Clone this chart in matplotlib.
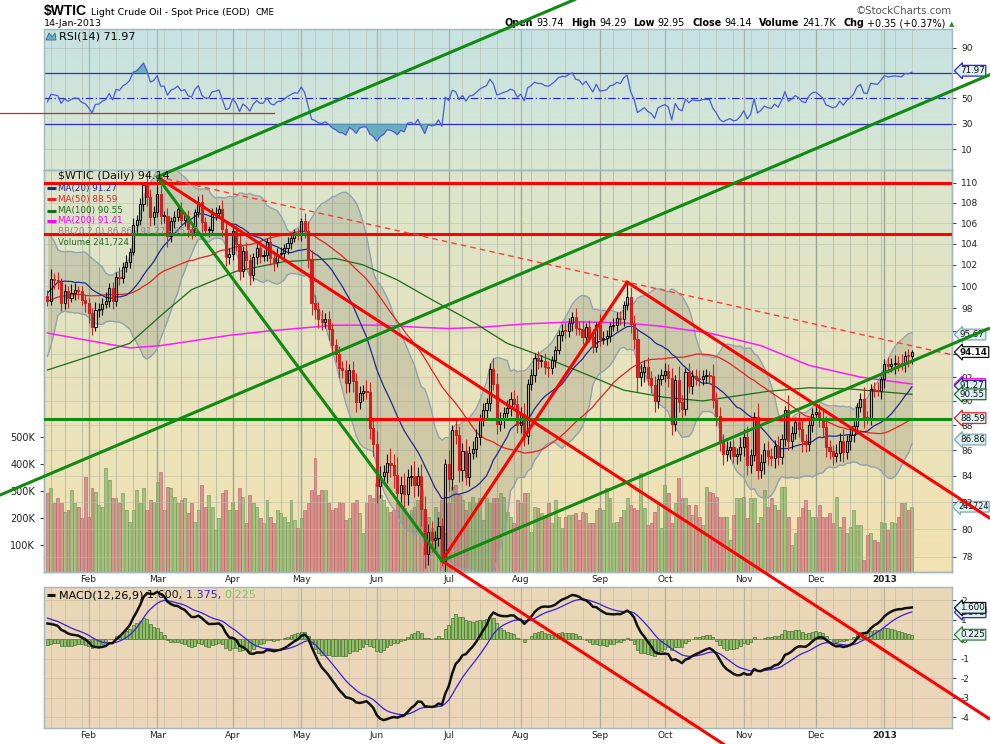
import numpy as np
import pandas as pd
import matplotlib
matplotlib.use("Agg")
import matplotlib.pyplot as plt
import matplotlib.transforms as mtransforms
from matplotlib.colors import to_rgb
from matplotlib.ticker import FixedLocator, NullLocator, FuncFormatter

# ---------------- data ----------------
# closes before the first visible bar (Oct 2011 - Jan 12 2012), only used to warm up the indicators
warmup_close = [
    77.61, 75.67, 79.68, 82.59, 82.98, 85.41, 85.81, 85.57, 84.23, 86.80, 86.38,
    88.34, 86.11, 85.30, 87.40, 91.27, 93.17, 90.20, 93.96, 93.32, 93.19,
    92.19, 92.51, 94.07, 94.26, 95.52, 96.80, 95.74, 97.78, 98.99, 98.14, 99.37,
    102.59, 98.82, 97.41, 96.92, 98.01, 96.17, 96.77, 98.21, 99.79, 100.36,
    100.20, 100.96, 101.00, 101.28, 100.49, 98.34, 99.41, 97.77, 100.14, 94.95,
    93.87, 93.53, 93.88, 97.22, 98.67, 99.53, 99.68, 101.34, 99.36, 99.65, 98.83,
    102.96, 103.22, 101.81, 101.56, 101.31, 102.24, 100.87, 99.10,
]

close_jan = [98.70, 100.71, 100.59, 100.39, 98.46, 99.58, 98.95, 99.40, 99.70, 99.56, 98.78, 98.48]
close_feb = [97.61, 96.36, 97.84, 97.91, 98.41, 98.70, 99.84, 98.67, 100.91, 100.74,
             101.80, 102.31, 103.24, 105.84, 106.28, 107.83, 109.77, 108.56, 106.55, 107.07]
close_mar = [108.84, 106.70, 106.72, 104.70, 106.16, 106.58, 107.40, 106.34, 106.71, 105.43, 105.11,
             107.06, 108.09, 106.07, 105.35, 105.35, 106.87, 107.03, 107.33, 105.41, 102.78, 103.02]
close_apr = [105.23, 104.01, 101.47, 103.31, 102.46, 101.02, 102.70, 103.64, 102.83, 102.93,
             104.20, 102.67, 102.27, 103.05, 103.11, 103.55, 104.12, 104.55, 104.93, 104.87]
close_may = [106.16, 105.22, 102.54, 98.49, 97.94, 97.01, 96.81, 97.08, 96.13, 94.78, 93.98,
             92.81, 92.56, 91.48, 92.57, 91.66, 89.90, 90.66, 90.86, 90.76, 87.82, 86.53]
close_jun = [83.23, 83.98, 84.29, 85.02, 84.82, 84.10, 82.70, 83.32, 82.62, 83.91, 84.03,
             83.27, 84.03, 81.45, 78.20, 79.76, 79.21, 79.36, 80.21, 77.69, 84.96]
close_jul = [83.75, 87.66, 87.22, 84.45, 85.99, 83.91, 85.81, 86.08, 87.10, 88.43, 89.22,
             89.87, 92.66, 91.44, 88.14, 88.50, 89.04, 89.39, 90.13, 89.78, 88.06]
close_aug = [88.91, 87.13, 91.40, 92.20, 93.67, 93.35, 93.36, 92.87, 92.73, 93.43, 94.33, 95.60,
             96.01, 95.97, 96.68, 97.26, 96.27, 96.15, 95.47, 96.33, 95.49, 94.62, 96.47]
close_sep = [95.30, 95.36, 95.53, 96.42, 96.54, 97.17, 97.01, 98.31, 99.00, 96.62,
             95.29, 91.98, 92.42, 92.89, 91.93, 91.37, 89.98, 91.85, 92.19]
close_oct = [92.48, 91.89, 88.14, 91.71, 89.88, 89.33, 92.39, 91.25, 92.07, 91.86, 91.85, 92.09,
             92.12, 92.10, 90.05, 88.73, 86.67, 85.73, 86.05, 86.28, 85.54, 85.68, 86.24]
close_nov = [87.09, 84.86, 85.65, 88.71, 84.44, 85.09, 86.07, 85.57, 85.38, 86.32, 85.45,
             86.92, 89.28, 86.75, 87.38, 88.28, 87.74, 86.71, 86.49, 88.07, 88.91]
close_dec = [89.09, 88.49, 87.88, 86.26, 85.93, 85.56, 85.80, 86.77, 85.89, 86.73,
             87.20, 87.93, 89.51, 90.13, 88.66, 88.61, 90.98, 90.87, 90.80, 91.82]
close_jan13 = [93.12, 92.92, 93.09, 93.19, 93.15, 93.10, 93.82, 93.79, 94.14]

# wick length above / below the candle body
hi_ext = [0.6, 0.9, 0.5, 0.7, 0.4, 0.6, 0.5, 0.8, 0.6, 0.3, 0.5, 0.4,
          0.5, 0.4, 0.7, 0.6, 0.5, 0.8, 0.5, 0.6, 0.4, 0.9, 0.5, 0.6, 0.4, 0.7, 0.5, 0.6, 0.2, 1.2, 0.8, 0.6,
          1.7, 0.9, 0.5, 0.8, 0.4, 0.6, 0.5, 0.7, 0.4, 0.6, 0.5, 0.3, 0.6, 0.8, 0.5, 0.4, 0.6, 0.5, 0.4, 0.9, 0.7, 0.6,
          0.4, 0.6, 0.8, 0.5, 0.9, 0.6, 0.4, 0.5, 0.7, 0.5, 0.4, 0.9, 0.6, 0.5, 0.6, 0.4, 0.5, 0.3, 0.5, 0.6,
          0.3, 0.8, 1.0, 0.9, 0.7, 0.6, 0.8, 0.5, 0.7, 0.6, 0.5, 0.7, 0.6, 0.9, 0.5, 0.8, 0.7, 0.6, 0.5, 0.9, 0.8, 0.6,
          1.0, 0.8, 0.6, 0.7, 1.2, 0.9, 1.4, 0.7, 0.9, 0.6, 0.8, 1.1, 0.7, 0.9, 1.0, 0.6, 0.8, 0.5, 0.7, 0.6, 0.4,
          1.1, 0.4, 0.8, 0.7, 0.6, 0.9, 0.5, 0.7, 0.6, 0.5, 0.6, 0.4, 0.5, 1.0, 0.9, 0.6, 0.5, 0.7, 0.6, 0.8, 0.7,
          0.6, 0.9, 0.4, 0.5, 0.4, 0.6, 0.5, 0.7, 0.5, 0.4, 0.3, 0.5, 0.6, 0.7, 0.5, 0.4, 0.8, 0.6, 0.7, 0.4, 0.6, 0.7, 0.3,
          1.0, 0.6, 0.5, 0.4, 0.6, 0.5, 0.6, 0.4, 1.4, 0.9, 0.8, 0.9, 0.7, 0.6, 0.8, 0.6, 0.7, 0.4, 0.5,
          0.7, 0.6, 0.9, 0.5, 1.2, 0.6, 0.4, 0.8, 0.5, 0.6, 0.7, 0.5, 0.6, 0.4, 1.0, 0.7, 0.8, 0.6, 0.7, 0.5, 0.6, 0.5, 0.8,
          0.6, 0.9, 0.5, 0.4, 1.1, 0.6, 0.5, 0.7, 0.6, 0.5, 0.8, 0.4, 0.3, 1.2, 0.6, 0.4, 0.7, 0.8, 0.6, 0.4, 0.5,
          0.6, 0.7, 0.8, 0.9, 0.6, 0.5, 0.7, 0.6, 0.9, 0.5, 0.6, 0.4, 0.3, 0.5, 1.0, 0.5, 0.4, 0.6, 0.7, 0.3,
          0.4, 0.6, 0.5, 0.7, 0.6, 0.8, 0.4, 0.6, 0.15]
lo_ext = [0.5, 0.4, 0.8, 0.6, 0.7, 0.5, 0.9, 0.4, 0.6, 0.7, 0.5, 0.8,
          0.9, 0.7, 0.4, 0.6, 0.5, 0.4, 0.6, 0.7, 0.5, 0.6, 0.4, 0.5, 0.6, 0.3, 0.7, 0.5, 0.6, 0.9, 0.8, 0.7,
          0.5, 0.8, 0.7, 1.0, 0.5, 0.6, 0.4, 0.7, 0.6, 0.8, 0.7, 0.4, 0.5, 0.9, 0.6, 0.7, 0.5, 0.6, 0.4, 0.8, 0.9, 0.7,
          0.6, 0.7, 0.9, 0.6, 0.8, 0.9, 0.5, 0.6, 0.7, 0.5, 0.6, 0.7, 0.8, 0.5, 0.4, 0.6, 0.5, 0.6, 0.4, 0.5,
          0.6, 0.7, 0.8, 1.1, 0.9, 0.8, 0.7, 0.6, 0.9, 0.8, 0.7, 0.9, 0.6, 0.8, 0.7, 0.9, 0.8, 0.6, 0.7, 0.6, 0.9, 1.0,
          1.3, 0.9, 0.7, 0.8, 0.9, 1.0, 0.8, 0.7, 1.0, 0.8, 0.7, 0.9, 0.8, 1.2, 1.0, 0.8, 0.9, 0.7, 0.6, 0.4, 0.8,
          0.9, 0.8, 0.7, 0.9, 0.8, 0.6, 0.7, 0.5, 0.6, 0.7, 0.5, 0.6, 0.7, 0.5, 0.8, 0.6, 0.7, 0.5, 0.6, 0.5, 0.7,
          0.7, 0.8, 0.6, 0.5, 0.6, 0.7, 0.5, 0.6, 0.7, 0.5, 0.6, 0.4, 0.5, 0.6, 0.5, 0.7, 0.6, 0.5, 0.6, 0.7, 0.5, 0.6, 0.5,
          0.6, 0.5, 0.6, 0.5, 0.4, 0.6, 0.5, 0.6, 0.5, 0.8, 0.9, 1.2, 0.7, 0.8, 0.6, 0.7, 0.9, 0.6, 0.5,
          0.6, 0.7, 0.9, 0.6, 0.8, 0.7, 0.5, 0.6, 0.7, 0.5, 0.6, 0.5, 0.6, 0.7, 0.6, 0.8, 0.7, 0.9, 0.6, 0.7, 0.5, 0.6, 0.5,
          0.7, 0.8, 0.6, 0.5, 0.7, 0.6, 0.9, 0.7, 0.6, 0.8, 0.6, 0.5, 0.6, 0.7, 0.6, 0.5, 0.7, 0.8, 0.6, 0.5, 0.6,
          0.5, 0.6, 0.7, 0.8, 0.6, 0.7, 0.5, 0.6, 0.8, 0.6, 0.7, 0.5, 0.6, 0.4, 0.9, 0.5, 0.6, 0.5, 0.4, 0.6,
          0.7, 0.6, 0.5, 0.8, 0.6, 0.5, 0.7, 0.9, 0.7]

# daily volume, thousands
volume_k = [
    291, 310, 254, 273, 254, 223, 230, 304, 254, 242, 199, 353, 205, 310, 297, 248, 242, 384, 341, 273,
    273, 254, 291, 230, 186, 230, 304, 254, 310, 230, 267, 260, 334, 371, 230, 316, 310, 279, 254, 267,
    273, 217, 254,
    186, 230, 322, 242, 285, 242, 156, 199, 291, 304, 230, 260, 230, 310, 279, 180, 285, 254, 242, 199,
    180, 267, 205, 180, 230, 217, 205, 186, 267, 193, 162, 199, 230, 254, 304, 421, 285, 304, 304, 254,
    230, 236, 260,
    254, 193, 199, 254, 267, 217, 143, 254, 285, 273, 328, 285, 267, 242, 223, 230, 254, 254, 236, 205,
    230, 242, 267, 304, 223, 205, 162, 242, 223, 267, 143, 254, 316, 322, 285, 267, 230, 260, 279, 254,
    273, 193,
    273, 254, 273, 273, 291, 279, 223, 205, 180, 267, 254, 291, 291, 149, 242, 236, 217, 205, 254, 180,
    267, 205, 162, 205, 211, 211, 217, 193, 223, 217, 180, 180, 230, 236, 230, 310, 273, 180, 186, 205,
    230, 273, 248, 236, 230, 365, 236, 174, 180, 223, 260,
    162, 322, 291, 180, 254, 347, 273, 273, 248, 211, 248, 205, 174, 316, 297, 291, 279, 205, 205, 205,
    119, 211, 273, 273, 279, 199, 273, 273, 180, 205, 304, 242, 273, 248, 230, 316, 316, 205, 100, 143,
    205, 236, 267, 230, 205, 205, 248, 205, 205, 217, 180, 279, 168, 205, 143, 168, 230, 174, 174, 44,
    137, 143, 119, 112, 186, 180, 156, 186, 180, 205, 254, 254, 230, 242,
]

# MA(100) and MA(200) sampled off the chart (bar index, value)
ma100_idx = [0, 24, 34, 42, 55, 69, 84, 92, 102, 112, 125, 134, 144, 159, 168, 180, 191, 210, 222, 234, 252]
ma100_val = [92.6, 94.9, 97.6, 99.7, 101.4, 102.3, 102.6, 102.0, 100.6, 98.8, 96.6, 94.9, 93.8, 92.0,
             90.9, 90.3, 90.0, 90.8, 91.1, 91.0, 90.55]
ma200_idx = [0, 11, 24, 33, 42, 53, 65, 84, 97, 109, 117, 126, 139, 154, 168, 179, 193, 208, 222, 237, 252]
ma200_val = [95.8, 95.2, 94.5, 94.7, 95.1, 95.6, 96.0, 96.5, 96.5, 96.3, 96.2, 96.3, 96.6, 96.8, 96.7,
             96.4, 95.8, 94.7, 93.0, 92.0, 91.41]

# last values printed on the chart
last_close = 94.14
last_ma20, last_ma50, last_ma100, last_ma200 = 91.27, 88.59, 90.55, 91.41
last_bb_lo, last_bb_up = 86.86, 95.67
last_rsi = 71.97
last_macd, last_signal, last_hist = 1.600, 1.375, 0.225
last_volume = 241724

holidays = ["2012-01-16", "2012-02-20", "2012-04-06", "2012-05-28", "2012-07-04",
            "2012-09-03", "2012-11-22", "2012-12-25", "2013-01-01"]

# trendline anchors (bar index, price)
mar_high = (32, 110.6)
jun_low = (115, 77.7)
sep_high = (169, 100.4)
red_chan_pt = (180, 81.6)
grn_chan_pt = (178.5, 84.6)
grn_long_pt = (178.5, 106.8)
rsi_mark = (66, 38.6)

# ---------------- series ----------------
close = (close_jan + close_feb + close_mar + close_apr + close_may + close_jun + close_jul +
         close_aug + close_sep + close_oct + close_nov + close_dec + close_jan13)
dates = pd.bdate_range("2012-01-13", "2013-01-14")
dates = dates[~dates.isin(pd.to_datetime(holidays))]
n = len(close)
assert len(dates) == n == len(volume_k) == len(hi_ext) == len(lo_ext)

nw = len(warmup_close)
full = pd.Series(warmup_close + close)
ma20 = full.rolling(20).mean().values[nw:]
sd20 = full.rolling(20).std(ddof=0).values[nw:]
bb_up = ma20 + 2 * sd20
bb_lo = ma20 - 2 * sd20
ma50 = full.rolling(50).mean().values[nw:]
delta = full.diff()
avg_g = delta.clip(lower=0).ewm(alpha=1 / 14, adjust=False).mean()
avg_l = (-delta.clip(upper=0)).ewm(alpha=1 / 14, adjust=False).mean()
rsi = (100 - 100 / (1 + avg_g / avg_l)).values[nw:]
macd_full = full.ewm(span=12, adjust=False).mean() - full.ewm(span=26, adjust=False).mean()
sig_full = macd_full.ewm(span=9, adjust=False).mean()
macd = macd_full.values[nw:]
signal = sig_full.values[nw:]
hist = macd - signal

idx = np.arange(n)
c = np.array(close)
o = np.array([warmup_close[-1]] + close[:-1])
body_lo = np.minimum(o, c)
body_hi = np.maximum(o, c)
hi = body_hi + np.array(hi_ext)
lo = body_lo - np.array(lo_ext)
up = c >= o

month_idx = [i for i in range(1, n) if dates[i].month != dates[i - 1].month]
month_lab = [d.strftime("%b") if d.year == 2012 else str(d.year) for d in dates[month_idx]]
week_idx = [i for i in range(1, n) if dates[i].weekday() < dates[i - 1].weekday()]

# ---------------- figure ----------------
W, H = 990, 744
fig = plt.figure(figsize=(W / 100, H / 100), dpi=100)
fig.patch.set_facecolor("white")


def px_box(x0, y0, x1, y1):
    return [x0 / W, 1 - y1 / H, (x1 - x0) / W, (y1 - y0) / H]


def gradient(a, top, bottom):
    t = np.linspace(0, 1, 128)[:, None, None]
    img = (1 - t) * np.array(to_rgb(top)) + t * np.array(to_rgb(bottom))
    a.imshow(img, extent=[0, 1, 0, 1], transform=a.transAxes, aspect="auto", zorder=0, interpolation="bilinear")


XLIM = (-1.0, 263.7)
ax_rsi = fig.add_axes(px_box(44, 29, 952, 170))
ax_vol = fig.add_axes(px_box(44, 170, 952, 572))
ax = fig.add_axes(px_box(44, 170, 952, 572))
ax_macd = fig.add_axes(px_box(44, 587, 952, 728))
ax.set_zorder(ax_vol.get_zorder() + 1)
ax.patch.set_visible(False)

gradient(ax_rsi, "#c6e2e2", "#d9e7d2")
gradient(ax_vol, "#dbe5cc", "#f3e1b1")
gradient(ax_macd, "#ead8b8", "#ecd6ba")

spine_col = "#a3b7c0"
for a in (ax_rsi, ax_vol, ax, ax_macd):
    for s in a.spines.values():
        s.set_color(spine_col)
        s.set_linewidth(1.0)
    a.set_xlim(*XLIM)
    a.tick_params(labelsize=6.5, colors="#222222", length=3, width=0.6)
    for i in week_idx:
        a.axvline(i, color="#a8b0a0", lw=0.6, alpha=0.5, zorder=1)
    for i in month_idx:
        a.axvline(i, color="#8d978a", lw=0.9, alpha=0.55, zorder=1)

# ---- RSI panel ----
ax_rsi.set_ylim(-6.6, 105)
ax_rsi.yaxis.tick_right()
ax_rsi.set_yticks([10, 30, 50, 70, 90])
ax_rsi.set_yticklabels(["10", "30", "50", "", "90"])
ax_rsi.set_xticks([])
for v in (10, 90):
    ax_rsi.axhline(v, color="#a8b4a8", lw=0.6, alpha=0.6, zorder=1)
ax_rsi.axhline(70, color="#2a2ad0", lw=0.9, zorder=2)
ax_rsi.axhline(30, color="#2a2ad0", lw=0.9, zorder=2)
ax_rsi.axhline(50, color="#2a2ad0", lw=0.9, ls=(0, (6, 2, 1, 2)), zorder=2)
ax_rsi.fill_between(idx, 70, rsi, where=rsi > 70, interpolate=True, color="#5aa6b8", alpha=0.85, lw=0, zorder=2)
ax_rsi.fill_between(idx, 30, rsi, where=rsi < 30, interpolate=True, color="#5aa6b8", alpha=0.85, lw=0, zorder=2)
ax_rsi.plot(idx, rsi, color="#4a5ad6", lw=0.9, zorder=3)

# ---- volume (under price) ----
vol_up = np.diff(np.r_[warmup_close[-1], c]) >= 0
ax_vol.bar(idx[vol_up], np.array(volume_k)[vol_up], width=0.85, color="#9dbf7c", edgecolor="#739a58", lw=0.5, alpha=0.9, zorder=2)
ax_vol.bar(idx[~vol_up], np.array(volume_k)[~vol_up], width=0.85, color="#d98b8b", edgecolor="#bb6868", lw=0.5, alpha=0.9, zorder=2)
ax_vol.set_ylim(0, 1489)
ax_vol.set_yticks([100, 200, 300, 400, 500])
ax_vol.set_yticklabels(["100K", "200K", "300K", "400K", "500K"], fontsize=7)
ax_vol.set_xticks([])

# ---- price panel ----
ax.set_yscale("log")
price_ticks = list(range(78, 111, 2))
ax.yaxis.set_major_locator(FixedLocator(price_ticks))
ax.yaxis.set_minor_locator(NullLocator())
ax.yaxis.set_major_formatter(FuncFormatter(lambda v, p: "" if round(v) in (94, 96) else f"{v:.0f}"))
ax.yaxis.tick_right()
ax.set_ylim(76.9, 111.3)
for v in price_ticks:
    ax.axhline(v, color="#b7bda8", lw=0.6, alpha=0.6, zorder=1)

ax.fill_between(idx, bb_lo, bb_up, color="#7c7c68", alpha=0.24, lw=0, zorder=2)
ax.plot(idx, bb_up, color="#93a2ac", lw=1.0, zorder=2)
ax.plot(idx, bb_lo, color="#93a2ac", lw=1.0, zorder=2)
ax.plot(ma200_idx, ma200_val, color="#ff1aff", lw=1.1, zorder=3)
ax.plot(ma100_idx, ma100_val, color="#1d6a1d", lw=0.9, zorder=3)
ax.plot(idx, ma50, color="#e42222", lw=0.9, zorder=3)
ax.plot(idx, ma20, color="#1f2a8c", lw=0.9, zorder=3)

up_col, dn_col = "#111111", "#cc2222"
cols = np.where(up, up_col, dn_col)
ax.vlines(idx, body_hi, hi, colors=cols, lw=0.8, zorder=4)
ax.vlines(idx, lo, body_lo, colors=cols, lw=0.8, zorder=4)
body_h = np.maximum(body_hi - body_lo, 0.08)
ax.bar(idx[up], body_h[up], bottom=body_lo[up], width=0.62, facecolor="none", edgecolor=up_col, lw=0.8, zorder=5)
ax.bar(idx[~up], body_h[~up], bottom=body_lo[~up], width=0.62, facecolor=dn_col, edgecolor=dn_col, lw=0.8, zorder=5)

# horizontal support / resistance lines
ax.axhline(110.0, color="#ff0000", lw=2.2, zorder=6)
ax.axhline(104.9, color="#ff0000", lw=2.2, zorder=6)
ax.axhline(88.5, color="#118a11", lw=2.2, zorder=6)
ax.plot([24.7, 50.9], [104.9, 104.9], color="#118a11", lw=2.2, zorder=6)
ax.plot([72.2, 75.1], [104.9, 104.9], color="#118a11", lw=2.2, zorder=6)
ax.plot([93.4, 127], [88.5, 88.5], color="#ff0000", lw=2.2, zorder=6)
ax.plot([196, 222], [88.5, 88.5], color="#ff0000", lw=2.2, zorder=6)

ax.set_xticks(month_idx)
ax.set_xticklabels(month_lab)
ax.tick_params(axis="x", length=0, pad=2.5)
ax.get_xticklabels()[-1].set_fontweight("bold")

# ---- MACD panel ----
ax_macd.set_ylim(-4.56, 2.67)
ax_macd.yaxis.tick_right()
ax_macd.set_yticks([-4, -3, -2, -1, 0, 1, 2])
ax_macd.yaxis.set_major_formatter(FuncFormatter(lambda v, p: f"{v:g}"))
for v in range(-4, 3):
    ax_macd.axhline(v, color="#c4b8a0", lw=0.6, alpha=0.7, zorder=1)
ax_macd.bar(idx, hist, width=0.85, color="#8dc265", edgecolor="#4d6d36", lw=0.5, zorder=2)
ax_macd.plot(idx, signal, color="#3b1fd8", lw=0.9, zorder=3)
ax_macd.plot(idx, macd, color="#111111", lw=1.8, zorder=4)
ax_macd.set_xticks(month_idx)
ax_macd.set_xticklabels(month_lab)
ax_macd.tick_params(axis="x", length=0, pad=2.5)
ax_macd.get_xticklabels()[-1].set_fontweight("bold")


# ---- right side value tags ----
def tag(a, val, txt, ec, fc="#dcf1f4", bold=False, fs=6.3, x=1.0088):
    tr = mtransforms.blended_transform_factory(a.transAxes, a.transData)
    a.text(x, val, txt, transform=tr, ha="left", va="center", fontsize=fs,
           fontweight="bold" if bold else "normal", color="#111111", clip_on=False, zorder=8,
           bbox=dict(boxstyle="larrow,pad=0.1", fc=fc, ec=ec, lw=0.9))


tag(ax_rsi, last_rsi, f"{last_rsi:.2f}", "#2a2ad0")
tag(ax, last_bb_up, f"{last_bb_up:.2f}", "#7fa6b3")
tag(ax, last_ma200, f"{last_ma200:.2f}", "#ff00ff")
tag(ax, last_ma20, f"{last_ma20:.2f}", "#1f2a8c")
tag(ax, last_ma100, f"{last_ma100:.2f}", "#1d6a1d")
tag(ax, last_ma50, f"{last_ma50:.2f}", "#e42222")
tag(ax, last_bb_lo, f"{last_bb_lo:.2f}", "#7fa6b3")
tag(ax, last_close, f"{last_close:.2f}", "#111111", fc="white", bold=True)
tag(ax_vol, last_volume / 1000, f"{last_volume}", "#7fa6b3", fs=5.8, x=1.0066)
tag(ax_macd, last_signal, f"{last_signal:.3f}", "#3b1fd8")
tag(ax_macd, last_macd, f"{last_macd:.3f}", "#111111")
tag(ax_macd, last_hist, f"{last_hist:.3f}", "#2e7d2e")

# ---- overlay for annotations drawn across panels ----
ov = fig.add_axes([0, 0, 1, 1])
ov.set_xlim(0, W)
ov.set_ylim(H, 0)
ov.axis("off")
ov.set_zorder(20)


def to_px(a, pt):
    d = a.transData.transform(pt)
    return d[0], H - d[1]


M = to_px(ax, mar_high)
J = to_px(ax, jun_low)
S = to_px(ax, sep_high)
RA = to_px(ax, red_chan_pt)
GA = to_px(ax, grn_chan_pt)
GL = to_px(ax, grn_long_pt)
red_s = (RA[1] - M[1]) / (RA[0] - M[0])
grn_s = (GA[1] - J[1]) / (GA[0] - J[0])
dash_s = (S[1] - M[1]) / (S[0] - M[0])


def seg(p, slope, x_end, **kw):
    ov.plot([p[0], x_end], [p[1], p[1] + slope * (x_end - p[0])], solid_capstyle="butt", **kw)


red = dict(color="#ff0000", lw=2.2)
grn = dict(color="#118a11", lw=2.2)
seg(M, dash_s, 952, color="#ff3b3b", lw=1.0, ls=(0, (4, 3)))
seg(M, red_s, W, **red)
seg(S, red_s, W, **red)
seg(J, red_s, W, **red)
ov.plot([J[0], S[0]], [J[1], S[1]], **red)
ov.plot([M[0], J[0]], [M[1], J[1]], **grn)
seg(J, grn_s, W, **grn)
seg(M, grn_s, W, **grn)
ov.plot([0, W], [GL[1] - grn_s * GL[0], GL[1] + grn_s * (W - GL[0])], **grn)
R = to_px(ax_rsi, rsi_mark)
ov.plot([0, R[0]], [R[1], R[1]], color="#e02020", lw=0.9)


# ---- texts ----
def ftext(x, y, s, **kw):
    return fig.text(x / W, 1 - y / H, s, **kw)


renderer = fig.canvas.get_renderer()
t = ftext(44, 15, "$WTIC", fontsize=10, fontweight="bold", family=["Liberation Sans", "DejaVu Sans"], va="baseline")
xt = 44 + t.get_window_extent(renderer=renderer).width + 4
t = ftext(xt, 15, "Light Crude Oil - Spot Price (EOD)", fontsize=6.8, va="baseline")
xt += t.get_window_extent(renderer=renderer).width + 5
ftext(xt, 15, "CME", fontsize=6.2, va="baseline")
ftext(44, 26.5, "14-Jan-2013", fontsize=6.8, va="baseline")
ftext(952, 14, "\u00a9StockCharts.com", fontsize=7.3, color="#555555", ha="right", va="baseline")

header = [("Open", "93.74"), ("High", "94.29"), ("Low", "92.95"), ("Close", "94.14"),
          ("Volume", "241.7K"), ("Chg", "+0.35 (+0.37%)")]
x = 505
for lab, val in header:
    t = ftext(x, 26, lab, fontsize=6.9, fontweight="bold", va="baseline")
    x += t.get_window_extent(renderer=renderer).width + 3
    t = ftext(x, 26, val, fontsize=6.9, va="baseline")
    x += t.get_window_extent(renderer=renderer).width + 7
ftext(x - 3, 26, "\u25b2", fontsize=5, color="#2e8b2e", va="baseline")

ftext(59, 36.5, f"RSI(14) {last_rsi:.2f}", fontsize=8, va="center")
ov.add_patch(plt.Polygon([[46, 40], [49, 33], [52, 37], [55, 33], [56, 40]], closed=True, fc="#6ab0c0", ec="#3a6a80", lw=0.6))

legend_rows = [
    (f"$WTIC (Daily) {last_close:.2f}", "#111111", None, 8.0),
    (f"MA(20) {last_ma20:.2f}", "#1f2a8c", "#1f2a8c", 6.3),
    (f"MA(50) {last_ma50:.2f}", "#e42222", "#e42222", 6.3),
    (f"MA(100) {last_ma100:.2f}", "#1d6a1d", "#1d6a1d", 6.3),
    (f"MA(200) {last_ma200:.2f}", "#ff00ff", "#ff00ff", 6.3),
    (f"BB(20,2.0) {last_bb_lo:.2f} - {last_ma20:.2f} - {last_bb_up:.2f}", "#8a8a8a", None, 6.3),
    (f"Volume {last_volume:,}", "#2e6b2e", None, 6.3),
]
row_y = [176, 188.3, 199.3, 210.7, 221, 231.5, 242.3]
for (txt, col, dash, fs), y in zip(legend_rows, row_y):
    ftext(58, y, txt, fontsize=fs, color=col, va="center", zorder=30)
    if dash:
        ov.plot([47, 56], [y, y], color=dash, lw=2.2, solid_capstyle="butt")

t0 = ftext(59, 595, "MACD(12,26,9) ", fontsize=8, va="center")
xx = 59 + t0.get_window_extent(renderer=renderer).width
for s, col in ((f"{last_macd:.3f}, ", "#111111"), (f"{last_signal:.3f}, ", "#3b1fd8"), (f"{last_hist:.3f}", "#7cc26a")):
    t = ftext(xx, 595, s, fontsize=8, color=col, va="center")
    xx += t.get_window_extent(renderer=renderer).width
ov.plot([47, 55], [595, 595], color="#111111", lw=2.2, solid_capstyle="butt")

fig.savefig("out.png", dpi=100)
